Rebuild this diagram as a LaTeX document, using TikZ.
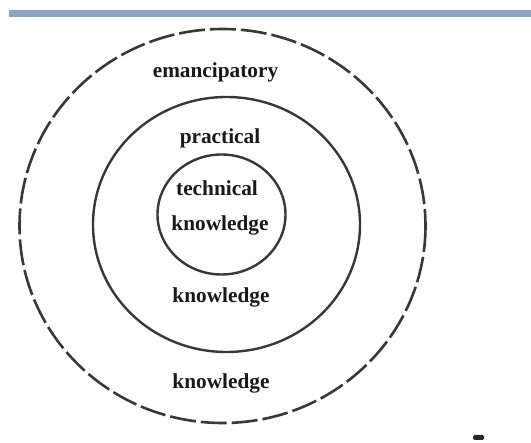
\documentclass[tikz,border=0pt]{standalone}
\usepackage{fontspec}
\setmainfont{Liberation Serif}
\begin{document}
\begin{tikzpicture}[x=1pt,y=-1pt,
  ring/.style={draw=black!78, line width=2.4pt},
  dashring/.style={draw=black!78, line width=2.6pt, dash pattern=on 26pt off 5pt},
  lbl/.style={font=\fontsize{21.3}{25}\selectfont\bfseries, text=black!90, inner sep=0pt}]
\useasboundingbox[fill=white] (0,0) rectangle (531,443);
\fill[fill={rgb,255:red,143;green,163;blue,197}] (9,10) rectangle (531,17);
\draw[dashring] (222.5,226) ellipse [x radius=203, y radius=197];
\draw[ring] (226.5,224.5) ellipse [x radius=133.5, y radius=127.5];
\draw[ring] (221.5,214.5) ellipse [x radius=64, y radius=60];
\node[lbl] (eman) at (215.5,72) {emancipatory};
\node[lbl] (prac) at (220,138) {practical};
\node[lbl] (tech) at (217,188) {technical};
\node[lbl] (know1) at (220,225) {knowledge};
\node[lbl] (know2) at (221,297) {knowledge};
\node[lbl] (know3) at (221,383) {knowledge};
\fill[black!85, rounded corners=1.5pt] (473,435) rectangle (484,440);
\end{tikzpicture}
\end{document}
